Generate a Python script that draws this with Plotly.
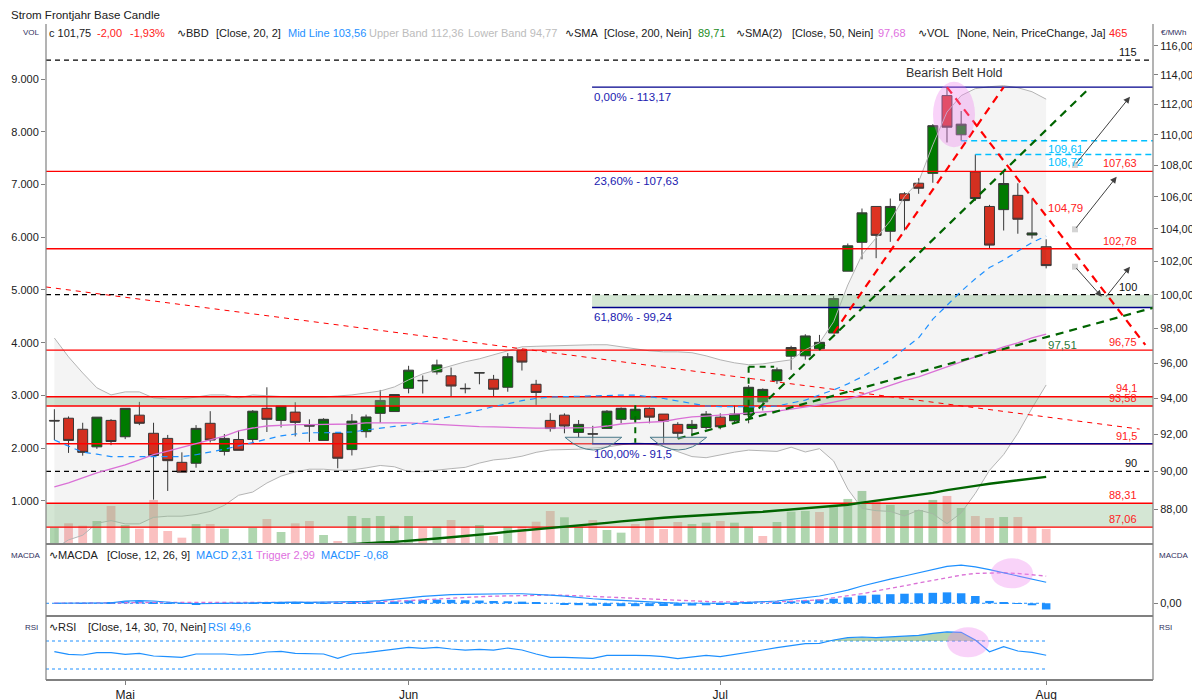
import math
import plotly.graph_objs as go

FONT = "Liberation Sans"

# one candle per trading day: 0 = late April ... 70 = 1 August
day = list(range(71))
month_pos = [5, 25, 47, 70]
month_names = ["Mai", "Jun", "Jul", "Aug"]

open_ = [92.78, 92.90, 92.29, 91.33, 92.78, 91.88, 93.07, 92.07, 91.79, 90.49,
         90.44, 92.62, 91.08, 91.73, 91.73, 93.45, 92.78, 93.24, 92.50, 91.68,
         92.07, 91.18, 92.16, 93.17, 93.27, 94.57, 95.02, 95.50, 95.28, 94.57,
         95.44, 95.08, 94.63, 96.75, 94.80, 92.78, 93.07, 92.12, 92.04, 92.34,
         92.84, 92.84, 93.45, 93.13, 92.56, 92.33, 92.39, 92.96, 92.76, 93.10,
         93.81, 95.00, 96.40, 96.42, 96.83, 97.74, 101.41, 103.17, 105.40, 103.85,
         106.20, 106.87, 107.50, 112.60, 110.00, 107.60, 105.40, 105.20, 106.10, 103.62,
         102.90]
high_ = [93.40, 93.00, 92.65, 92.96, 92.85, 93.45, 93.81, 92.65, 91.98, 91.03,
         92.52, 93.29, 92.03, 92.21, 93.35, 94.63, 93.58, 93.79, 92.84, 92.90,
         92.07, 93.13, 93.10, 94.48, 94.22, 95.85, 95.30, 96.20, 95.75, 94.85,
         95.46, 95.33, 96.58, 96.80, 95.05, 93.18, 93.17, 92.80, 92.48, 93.35,
         93.50, 93.50, 93.50, 93.13, 92.68, 92.80, 93.30, 93.17, 93.62, 94.75,
         94.57, 95.75, 97.00, 97.67, 97.63, 99.91, 103.10, 105.27, 105.40, 105.90,
         106.30, 107.19, 110.70, 113.17, 111.57, 108.72, 105.50, 107.63, 106.87, 105.86,
         103.36]
low_ = [91.70, 91.00, 90.85, 91.22, 91.42, 91.75, 92.52, 88.50, 88.96, 89.96,
        90.20, 91.57, 90.86, 91.14, 91.60, 92.14, 92.39, 91.90, 91.60, 91.68,
        90.17, 90.86, 91.83, 92.65, 93.27, 94.29, 94.28, 95.35, 94.14, 94.29,
        94.80, 94.14, 94.38, 95.58, 93.64, 92.16, 92.07, 91.85, 91.52, 92.34,
        92.62, 92.65, 92.62, 91.52, 91.78, 91.90, 92.29, 92.29, 92.62, 92.62,
        93.33, 94.82, 95.62, 96.20, 96.83, 97.74, 101.41, 102.13, 102.20, 103.20,
        103.90, 106.20, 106.90, 109.50, 109.61, 105.75, 102.80, 103.90, 103.70, 103.40,
        101.58]
close_ = [92.75, 91.68, 91.03, 92.96, 91.62, 93.45, 92.62, 90.86, 90.58, 89.96,
          92.34, 91.70, 91.79, 91.14, 93.29, 92.84, 93.58, 92.67, 92.47, 92.84,
          90.71, 92.74, 92.97, 93.89, 94.22, 95.60, 95.00, 95.90, 94.70, 94.55,
          95.45, 94.52, 96.37, 96.06, 94.34, 92.33, 92.47, 92.56, 92.03, 93.29,
          93.45, 93.40, 92.96, 92.74, 92.07, 92.56, 93.13, 92.43, 93.13, 94.63,
          94.51, 95.62, 96.90, 97.57, 97.20, 99.77, 102.96, 105.00, 103.60, 105.40,
          105.77, 106.55, 110.60, 110.50, 110.70, 105.90, 103.00, 106.85, 104.60, 103.75,
          101.75]
volume = [488, 571, 526, 615, 900, 539, 469, 1014, 425, 298,
          558, 558, 469, 170, 488, 653, 406, 571, 615, 349,
          235, 710, 672, 710, 526, 710, 480, 507, 634, 507,
          539, 330, 507, 507, 602, 805, 685, 507, 634, 444,
          393, 558, 647, 463, 596, 558, 583, 615, 583, 507,
          330, 596, 792, 806, 786, 919, 1033, 1185, 1014, 919,
          824, 824, 1014, 1090, 862, 710, 672, 691, 691, 501,
          465]

# Bollinger bands (20, 2)
bb_upper = [97.45, 96.36, 95.44, 94.60, 94.20, 94.37, 94.37, 94.03, 93.97, 93.97,
            94.08, 94.20, 94.20, 94.03, 94.20, 94.14, 94.11, 94.08, 94.08, 94.08,
            94.14, 94.20, 94.31, 94.42, 94.65, 95.05, 95.39, 95.62, 95.85, 96.08,
            96.25, 96.48, 96.71, 96.94, 96.97, 97.00, 97.03, 97.06, 97.06, 97.06,
            96.94, 96.83, 96.71, 96.65, 96.65, 96.60, 96.42, 96.19, 96.02, 95.91,
            95.96, 96.08, 96.19, 96.77, 97.17, 98.40, 100.58, 102.40, 103.44, 104.50,
            106.02, 106.97, 109.34, 111.50, 112.60, 113.07, 113.20, 113.27, 113.13, 112.86,
            112.36]
bb_mid = [91.70, 91.38, 91.04, 90.93, 90.80, 90.80, 90.80, 90.80, 90.80, 90.80,
          90.90, 91.04, 91.20, 91.38, 91.55, 91.76, 91.93, 92.03, 92.10, 92.10,
          92.10, 92.14, 92.25, 92.37, 92.45, 92.52, 92.69, 92.85, 93.00, 93.15,
          93.35, 93.55, 93.70, 93.88, 94.00, 94.08, 94.10, 94.13, 94.16, 94.19,
          94.19, 94.19, 94.10, 94.00, 93.86, 93.70, 93.58, 93.55, 93.53, 93.53,
          93.53, 93.58, 93.75, 93.91, 94.20, 94.48, 94.82, 95.22, 95.68, 96.19,
          96.83, 97.46, 98.55, 99.37, 100.20, 100.95, 101.63, 102.09, 102.60, 103.16,
          103.56]
bb_lower = [85.95, 86.40, 86.64, 87.26, 87.40, 87.23, 87.23, 87.57, 87.63, 87.63,
            87.72, 87.88, 88.20, 88.73, 88.90, 89.38, 89.75, 89.98, 90.12, 90.12,
            90.06, 90.08, 90.19, 90.32, 90.25, 89.99, 89.99, 90.08, 90.15, 90.22,
            90.45, 90.62, 90.69, 90.82, 91.03, 91.16, 91.17, 91.20, 91.26, 91.32,
            91.44, 91.55, 91.49, 91.35, 91.07, 90.80, 90.74, 90.91, 91.04, 91.15,
            91.10, 91.08, 91.31, 91.05, 91.23, 90.56, 89.06, 88.04, 87.92, 87.88,
            87.64, 87.95, 87.76, 87.24, 87.80, 88.83, 90.06, 90.91, 92.07, 93.46,
            94.76]
sma50 = [89.18, 89.39, 89.65, 89.92, 90.14, 90.35, 90.62, 90.90, 91.10, 91.30,
         91.53, 91.70, 91.92, 92.20, 92.36, 92.47, 92.52, 92.55, 92.55, 92.55,
         92.58, 92.58, 92.64, 92.64, 92.66, 92.64, 92.60, 92.55, 92.50, 92.47,
         92.44, 92.42, 92.39, 92.36, 92.35, 92.35, 92.35, 92.36, 92.38, 92.47,
         92.58, 92.64, 92.69, 92.72, 92.86, 92.97, 93.02, 93.08, 93.16, 93.19,
         93.24, 93.30, 93.41, 93.52, 93.64, 93.80, 93.97, 94.20, 94.48, 94.76,
         95.00, 95.22, 95.50, 95.79, 96.08, 96.36, 96.65, 96.94, 97.17, 97.46,
         97.68]
sma200 = [None] * 20 + [
    86.14, 86.19, 86.21, 86.27, 86.30, 86.35, 86.41, 86.47, 86.54, 86.60,
    86.66, 86.74, 86.82, 86.88, 86.95, 87.01, 87.08, 87.14, 87.21, 87.28,
    87.36, 87.43, 87.49, 87.55, 87.60, 87.65, 87.70, 87.74, 87.78, 87.82,
    87.86, 87.92, 87.97, 88.02, 88.07, 88.15, 88.23, 88.34, 88.44, 88.55,
    88.65, 88.76, 88.86, 89.00, 89.13, 89.23, 89.34, 89.44, 89.54, 89.62,
    89.71]

# MACD (12, 26, 9)
macd = [0.00, 0.00, -0.02, 0.00, 0.05, 0.25, 0.30, 0.25, 0.12, 0.00,
        -0.05, -0.02, 0.00, -0.02, 0.05, 0.08, 0.12, 0.12, 0.10, 0.12,
        0.08, 0.15, 0.20, 0.30, 0.42, 0.60, 0.75, 0.88, 0.95, 0.98,
        1.02, 1.03, 1.05, 1.05, 1.00, 0.90, 0.78, 0.62, 0.50, 0.40,
        0.30, 0.22, 0.15, 0.08, 0.03, 0.00, -0.02, 0.00, 0.02, 0.08,
        0.12, 0.25, 0.42, 0.60, 0.80, 1.10, 1.45, 1.90, 2.30, 2.65,
        3.00, 3.35, 3.70, 4.05, 4.20, 4.00, 3.70, 3.35, 3.00, 2.65,
        2.31]
trigger = [0.00, 0.00, 0.00, 0.00, 0.01, 0.03, 0.07, 0.10, 0.10, 0.08,
           0.05, 0.03, 0.03, 0.02, 0.03, 0.04, 0.05, 0.07, 0.08, 0.09,
           0.09, 0.10, 0.12, 0.16, 0.21, 0.29, 0.38, 0.48, 0.57, 0.65,
           0.72, 0.78, 0.83, 0.87, 0.90, 0.90, 0.88, 0.83, 0.77, 0.70,
           0.62, 0.54, 0.46, 0.38, 0.31, 0.25, 0.20, 0.16, 0.13, 0.12,
           0.12, 0.15, 0.20, 0.28, 0.38, 0.60, 0.80, 1.05, 1.35, 1.65,
           1.95, 2.25, 2.55, 2.85, 3.10, 3.28, 3.36, 3.36, 3.28, 3.15,
           2.99]
macdf = [0.00, 0.00, -0.02, 0.00, 0.04, 0.22, 0.23, 0.15, 0.02, -0.08,
         -0.10, -0.05, -0.03, -0.04, 0.02, 0.04, 0.07, 0.05, 0.02, 0.03,
         -0.01, 0.05, 0.08, 0.14, 0.21, 0.31, 0.37, 0.40, 0.38, 0.33,
         0.30, 0.25, 0.22, 0.18, 0.10, 0.00, -0.10, -0.21, -0.27, -0.30,
         -0.32, -0.32, -0.31, -0.30, -0.28, -0.25, -0.22, -0.16, -0.11, -0.04,
         0.00, 0.10, 0.22, 0.32, 0.42, 0.50, 0.65, 0.85, 0.95, 1.00,
         1.05, 1.10, 1.15, 1.20, 1.10, 0.80, 0.26, 0.08, -0.07, -0.22,
         -0.68]
# RSI (14)
rsi = [54.7, 50.9, 50.0, 53.3, 53.3, 51.0, 52.4, 48.6, 47.6, 46.7,
       51.4, 51.4, 51.4, 50.0, 51.0, 54.3, 55.2, 52.4, 52.4, 51.4,
       45.2, 51.4, 53.3, 56.2, 58.1, 61.0, 59.5, 61.0, 58.6, 57.1,
       58.1, 57.1, 60.0, 57.1, 51.4, 46.7, 46.7, 46.2, 45.2, 49.5,
       50.0, 49.5, 49.0, 47.6, 44.8, 47.6, 49.5, 47.6, 50.5, 54.3,
       57.1, 60.5, 63.8, 66.2, 66.7, 71.4, 74.8, 75.7, 74.8, 75.7,
       76.7, 78.1, 81.0, 82.9, 82.4, 71.4, 54.7, 61.9, 55.7, 53.8,
       49.6]

# drawn levels
red_levels = [107.63, 102.78, 96.75, 94.1, 93.58, 91.5, 88.31, 87.06]
red_labels = ["107,63", "102,78", "96,75", "94,1", "93,58", "91,5", "88,31", "87,06"]
black_levels = [115, 100, 90]
black_labels = ["115", "100", "90"]
fib_start = 37.95
fib_lines = [113.17, 99.24, 91.5]
fib_texts = [(113.17, "0,00% - 113,17"), (107.63, "23,60% - 107,63"),
             (99.24, "61,80% - 99,24"), (91.5, "100,00% - 91,5")]
zones = [(93.58, 94.1, None), (87.06, 88.31, None), (99.24, 100.0, fib_start)]
cyan_levels = [(109.61, 64, "109,61"), (108.72, 65, "108,72")]
# trend lines: day0, price0, day1, price1, colour, width, dash
trendlines = [
    (-0.59, 100.46, 76.6, 92.3, "#ff0000", 1, "5px,5px"),
    (55, 97.74, 67, 113.17, "#ff0000", 2.2, "8px,6px"),
    (63, 113.17, 77, 97.05, "#ff0000", 2.2, "8px,6px"),
    (44, 91.78, 77.54, 99.22, "#006400", 2.2, "8px,6px"),
    (49, 92.9, 73, 113.06, "#006400", 2.2, "8px,6px"),
    (41, 93.62, 41, 91.55, "#006400", 2, "6px,5px"),
    (49, 95.79, 49, 92.8, "#006400", 2, "6px,5px"),
    (49, 95.79, 50.8, 95.79, "#006400", 2, "6px,5px"),
]

X0, X1 = -0.59, 77.54


def px(X):
    return (X - 46) / 1107


def py(Y):
    return (680 - Y) / 656


fig = go.Figure()

vol_colors = []
for i, c in enumerate(close_):
    up = i == 0 or c >= close_[i - 1]
    vol_colors.append("rgba(110,180,110,0.55)" if up else "rgba(245,130,130,0.5)")
fig.add_trace(go.Bar(x=day, y=volume, width=0.62, marker=dict(color=vol_colors, line=dict(width=0)),
                     xaxis="x", yaxis="y"))

# Bollinger band
fig.add_trace(go.Scatter(x=day, y=bb_lower, mode="lines", line=dict(color="#b4b4b4", width=1),
                         xaxis="x", yaxis="y2"))
fig.add_trace(go.Scatter(x=day, y=bb_upper, mode="lines", line=dict(color="#b4b4b4", width=1),
                         fill="tonexty", fillcolor="rgba(0,0,0,0.045)", xaxis="x", yaxis="y2"))

for lo, hi, start in zones:
    s = X0 if start is None else start
    fig.add_trace(go.Scatter(x=[s, X1, X1, s], y=[lo, lo, hi, hi], mode="lines", fill="toself",
                             fillcolor="rgba(143,188,143,0.38)", line=dict(width=0),
                             xaxis="x", yaxis="y2"))

for v in red_levels:
    fig.add_trace(go.Scatter(x=[X0, X1], y=[v, v], mode="lines", line=dict(color="#ff0000", width=1.4),
                             xaxis="x", yaxis="y2"))
for v in black_levels:
    fig.add_trace(go.Scatter(x=[X0, X1], y=[v, v], mode="lines",
                             line=dict(color="#000000", width=1.2, dash="5px,4px"), xaxis="x", yaxis="y2"))
for v in fib_lines:
    fig.add_trace(go.Scatter(x=[fib_start, X1], y=[v, v], mode="lines", line=dict(color="#00008b", width=1.4),
                             xaxis="x", yaxis="y2"))
for v, s, _ in cyan_levels:
    fig.add_trace(go.Scatter(x=[s, X1], y=[v, v], mode="lines",
                             line=dict(color="#00bfff", width=1.4, dash="6px,4px"), xaxis="x", yaxis="y2"))

t = trendlines[0]
fig.add_trace(go.Scatter(x=[t[0], t[2]], y=[t[1], t[3]], mode="lines",
                         line=dict(color=t[4], width=t[5], dash=t[6]), xaxis="x", yaxis="y2"))

fig.add_trace(go.Scatter(x=day, y=sma200, mode="lines", line=dict(color="#006400", width=2.4),
                         xaxis="x", yaxis="y2"))
fig.add_trace(go.Scatter(x=day, y=sma50, mode="lines", line=dict(color="#da70d6", width=1.3),
                         xaxis="x", yaxis="y2"))
fig.add_trace(go.Scatter(x=day, y=bb_mid, mode="lines", line=dict(color="#1e90ff", width=1.2, dash="6px,5px"),
                         xaxis="x", yaxis="y2"))

fig.add_trace(go.Candlestick(
    x=day, open=open_, high=high_, low=low_, close=close_, xaxis="x", yaxis="y2",
    increasing=dict(fillcolor="#008000", line=dict(color="#3a3a3a", width=1)),
    decreasing=dict(fillcolor="#dd3322", line=dict(color="#3a3a3a", width=1)),
    whiskerwidth=0))

for t in trendlines[1:]:
    fig.add_trace(go.Scatter(x=[t[0], t[2]], y=[t[1], t[3]], mode="lines",
                             line=dict(color=t[4], width=t[5], dash=t[6]), xaxis="x", yaxis="y2"))

# MACD panel
fig.add_trace(go.Scatter(x=[X0, day[-1]], y=[0, 0], mode="lines",
                         line=dict(color="#1e90ff", width=1, dash="dot"), xaxis="x", yaxis="y3"))
fig.add_trace(go.Bar(x=day, y=macdf, width=0.6, marker=dict(color="#1e90ff", line=dict(width=0)),
                     xaxis="x", yaxis="y3"))
fig.add_trace(go.Scatter(x=day, y=trigger, mode="lines", line=dict(color="#da70d6", width=1.3, dash="4px,3px"),
                         xaxis="x", yaxis="y3"))
fig.add_trace(go.Scatter(x=day, y=macd, mode="lines", line=dict(color="#1e90ff", width=1.2),
                         xaxis="x", yaxis="y3"))

# RSI panel
for v in [30, 70]:
    fig.add_trace(go.Scatter(x=[X0, day[-1]], y=[v, v], mode="lines",
                             line=dict(color="#1e90ff", width=1, dash="dot"), xaxis="x", yaxis="y4"))
fig.add_trace(go.Scatter(x=day, y=[70] * len(day), mode="lines", line=dict(width=0),
                         xaxis="x", yaxis="y4"))
fig.add_trace(go.Scatter(x=day, y=[max(v, 70) for v in rsi], mode="lines", line=dict(width=0),
                         fill="tonexty", fillcolor="rgba(120,175,110,0.55)", xaxis="x", yaxis="y4"))
fig.add_trace(go.Scatter(x=day, y=rsi, mode="lines", line=dict(color="#1e90ff", width=1.2),
                         xaxis="x", yaxis="y4"))

# ---------- annotations ----------
ann = []


def txt(text, x, y, color="#202020", size=11, xanchor="left", yanchor="middle",
        xref="paper", yref="paper", yshift=0):
    ann.append(dict(text=text, x=x, y=y, xref=xref, yref=yref, showarrow=False,
                    xanchor=xanchor, yanchor=yanchor, yshift=yshift,
                    font=dict(family=FONT, size=size, color=color)))


txt("Strom Frontjahr Base Candle", px(9), py(14.5), size=11.5)
txt("VOL", px(21), py(33), color="#303060", size=8)
txt("€/MWh", px(1159), py(33), color="#303060", size=8)
header = [("c 101,75", 49, "#202020"), ("-2,00", 97, "#ff2020"), ("-1,93%", 130, "#ff2020"),
          ("∿BBD", 177, "#202020"), ("[Close, 20, 2]", 216, "#202020"),
          ("Mid Line 103,56", 288.5, "#1e90ff"), ("Upper Band 112,36", 369, "#bcbcbc"),
          ("Lower Band 94,77", 468.5, "#bcbcbc"), ("∿SMA", 565, "#202020"),
          ("[Close, 200, Nein]", 604.6, "#202020"), ("89,71", 698, "#228b22"),
          ("∿SMA(2)", 736.5, "#202020"), ("[Close, 50, Nein]", 792, "#202020"),
          ("97,68", 878, "#e070e0"), ("∿VOL", 918.5, "#202020"),
          ("[None, Nein, PriceChange, Ja]", 957, "#202020"), ("465", 1109.6, "#ff2020")]
for s, X, col in header:
    txt(s, px(X) - 0.002, py(33), color=col)

macd_head = [("∿MACDA", 49.7, "#202020"), ("[Close, 12, 26, 9]", 107, "#202020"),
             ("MACD 2,31", 196, "#1e90ff"), ("Trigger 2,99", 256, "#e070e0"),
             ("MACDF -0,68", 321, "#1e90ff")]
for s, X, col in macd_head:
    txt(s, px(X) - 0.002, py(555), color=col)
rsi_head = [("∿RSI", 49.7, "#202020"), ("[Close, 14, 30, 70, Nein]", 88, "#202020"),
            ("RSI 49,6", 208, "#1e90ff")]
for s, X, col in rsi_head:
    txt(s, px(X) - 0.002, py(627), color=col)
txt("MACDA", px(9), py(555), color="#303060", size=8)
txt("MACDA", px(1157), py(555), color="#303060", size=8)
txt("RSI", px(23), py(627), color="#303060", size=8)
txt("RSI", px(1157), py(627), color="#303060", size=8)

for v, s in zip(red_levels, red_labels):
    txt(s, px(1139), math.log10(v), color="#ff2020", xanchor="right", yanchor="bottom", yref="y2",
        yshift=1 if s == "94,1" else 0)
for v, s in zip(black_levels, black_labels):
    txt(s, px(1139), math.log10(v), color="#101010", xanchor="right", yanchor="bottom", yref="y2")
for v, s in fib_texts:
    txt(s, fib_start, math.log10(v), color="#2020b0", size=11.5, xref="x", yanchor="top",
        yref="y2", yshift=-2)
for v, s, lab in cyan_levels:
    txt(lab, px(1046), math.log10(v), color="#00bfff", yanchor="top", yref="y2", yshift=0, size=11.5)
txt("104,79", px(1046), math.log10(104.79), color="#ff2020", yanchor="bottom", yref="y2", size=11.5)
txt("97,51", px(1046), math.log10(97.51), color="#2a7a3a", yanchor="top", yref="y2", size=11.5)
txt("Bearish Belt Hold", px(954), py(73), color="#333333", size=12.5, xanchor="center")

arrows = [((1130, 96.7), (1075, 165)), ((1116.7, 176.7), (1075, 229.3)),
          ((1101.7, 296.7), (1075, 266.7)), ((1130, 266.7), (1105, 298))]
for (hx, hy), (tx, ty) in arrows:
    ann.append(dict(x=px(hx), y=py(hy), xref="paper", yref="paper", ax=tx - hx, ay=ty - hy,
                    text="", showarrow=True, arrowhead=2, arrowsize=1.3, arrowwidth=1,
                    arrowcolor="#404040", standoff=0))

# ---------- shapes ----------
shapes = []
grey = "#808080"
for yv, w in [(py(544), 2), (py(616), 2), (0, 2)]:
    shapes.append(dict(type="line", xref="paper", yref="paper", x0=0, x1=1, y0=yv, y1=yv,
                       line=dict(color=grey, width=w)))
for xv in [0, 1]:
    shapes.append(dict(type="line", xref="paper", yref="paper", x0=xv, x1=xv, y0=0, y1=1,
                       line=dict(color=grey, width=1.2)))
for (x0, x1) in [(565, 621.7), (650, 706.7)]:
    xm = (x0 + x1) / 2
    path = "M %.4f,%.4f Q %.4f,%.4f %.4f,%.4f Z" % (px(x0), py(437.3), px(xm), py(462.7), px(x1), py(437.3))
    shapes.append(dict(type="path", xref="paper", yref="paper", path=path,
                       fillcolor="rgba(200,200,200,0.35)", line=dict(color="#4a7a8a", width=1)))
for (x0, y0, x1, y1) in [(933, 81.7, 975, 147.3), (991, 558.3, 1033, 588.3), (947, 627.3, 989, 657.3)]:
    shapes.append(dict(type="circle", xref="paper", yref="paper", x0=px(x0), x1=px(x1),
                       y0=py(y1), y1=py(y0), fillcolor="rgba(238,130,238,0.35)",
                       line=dict(width=0), layer="above"))
for (sx, sy) in [(1075, 165), (1075, 229.3), (1075, 266.7)]:
    shapes.append(dict(type="rect", xref="paper", yref="paper", x0=px(sx - 3), x1=px(sx + 3),
                       y0=py(sy + 3), y1=py(sy - 3), fillcolor="#d4d4d4", line=dict(width=0)))

# the page puts the figure 8 px in from the top-left corner, margins allow for that
tick_font = dict(family=FONT, size=11, color="#202020")
fig.update_layout(
    width=1200, height=700, margin=dict(l=38, r=55, t=16, b=28, autoexpand=False),
    paper_bgcolor="white", plot_bgcolor="white", showlegend=False,
    separators=",.", font=dict(family=FONT, size=11, color="#202020"),
    boxgap=0.3, boxgroupgap=0, bargap=0.3, barmode="overlay",
    annotations=ann, shapes=shapes,
    xaxis=dict(range=[X0, X1], anchor="y4", tickvals=month_pos, ticktext=month_names,
               ticks="outside", ticklen=4, tickcolor=grey, showgrid=False, zeroline=False,
               showline=False, rangeslider=dict(visible=False), automargin=False,
               tickfont=dict(family=FONT, size=12, color="#202020")),
    yaxis=dict(domain=[py(544), 1], range=[178, 10049], side="left",
               tickvals=[1000, 2000, 3000, 4000, 5000, 6000, 7000, 8000, 9000], tickformat=",d",
               ticks="outside", ticklen=4, tickcolor=grey, showgrid=False, zeroline=False,
               showline=False, tickfont=tick_font, anchor="x", automargin=False),
    yaxis2=dict(overlaying="y", side="right", type="log",
                range=[math.log10(86.19), math.log10(117.51)],
                tickvals=list(range(88, 118, 2)), tickformat=".2f", ticks="outside", ticklen=4,
                tickcolor=grey, showgrid=False, zeroline=False, showline=False,
                tickfont=tick_font, anchor="x", automargin=False),
    yaxis3=dict(domain=[py(616), py(544)], range=[-1.40, 6.52], side="right", tickvals=[0],
                tickformat=".2f", ticks="outside", ticklen=4, tickcolor=grey, showgrid=False,
                zeroline=False, showline=False, tickfont=tick_font, anchor="x", automargin=False),
    yaxis5=dict(overlaying="y3", side="left", range=[-1.40, 6.52], tickvals=[0],
                tickformat=".2f", ticks="outside", ticklen=4, tickcolor=grey, showgrid=False,
                zeroline=False, showline=False, tickfont=tick_font, anchor="x", automargin=False),
    yaxis4=dict(domain=[0, py(616)], range=[14.3, 105.7], showticklabels=False, ticks="",
                showgrid=False, zeroline=False, showline=False, anchor="x", automargin=False),
)

fig.write_html("out.html")
